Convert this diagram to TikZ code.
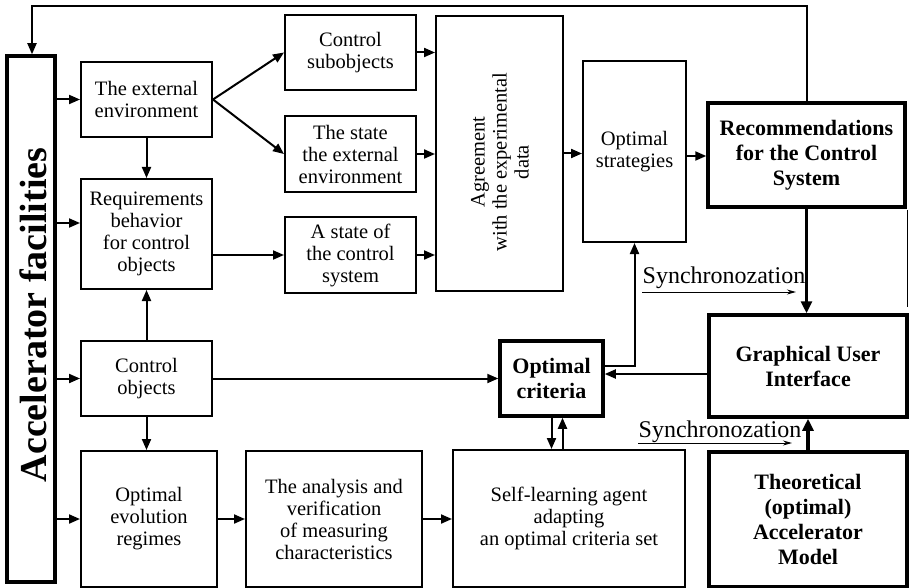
\documentclass[tikz,border=0pt]{standalone}
\usepackage{fontspec}
\setmainfont{Liberation Serif}
\usetikzlibrary{arrows.meta,calc}
\begin{document}
\begin{tikzpicture}[x=1pt,y=-1pt,
 box/.style={draw, line width=2pt, align=center, inner sep=0pt, font=\fontsize{20.5}{22}\selectfont},
 tbox/.style={box, line width=3.5pt, font=\fontsize{22}{25}\selectfont\bfseries},
 arr/.style={line width=2pt, -{Triangle[length=11pt,width=9pt]}},
 tarr/.style={line width=3.5pt, -{Triangle[length=12pt,width=11pt]}},
 syn/.style={line width=1pt, -{Stealth[length=9pt,width=5pt]}},
 syntext/.style={font=\fontsize{24}{26}\selectfont, inner sep=0pt, anchor=base},
]
\useasboundingbox (0,0) rectangle (909,588);

% nodes
\node[tbox, minimum width=48pt, minimum height=526pt] (acc) at (31,319) {};
\node[rotate=90, font=\fontsize{38}{40}\selectfont\bfseries, inner sep=0pt] (acctext) at (33,315) {Accelerator facilities};

\node[box, minimum width=131pt, minimum height=75pt] (ext) at (146.5,99.5) {The external\\environment};
\node[box, minimum width=131pt, minimum height=110pt] (req) at (146.5,234) {Requirements\\behavior\\for control\\objects};
\node[box, minimum width=131pt, minimum height=75pt] (cobj) at (146.5,378.5) {Control\\objects};
\node[box, minimum width=136pt, minimum height=136pt] (oer) at (149,519) {Optimal\\evolution\\regimes};
\node[box, minimum width=176pt, minimum height=136pt] (ana) at (334,519) {The analysis and\\verification\\of measuring\\characteristics};
\node[box, minimum width=232pt, minimum height=137pt] (self) at (569,518.5) {Self-learning agent\\adapting\\an optimal criteria set};
\node[tbox, minimum width=198pt, minimum height=135pt] (theo) at (808,519.5) {Theoretical\\(optimal)\\Accelerator\\Model};
\node[tbox, minimum width=198pt, minimum height=102pt] (gui) at (808,366) {Graphical User\\Interface};
\node[tbox, minimum width=103pt, minimum height=75pt] (crit) at (551.5,378.5) {Optimal\\criteria};

\node[box, minimum width=131pt, minimum height=75pt] (csub) at (350.5,52.5) {Control\\subobjects};
\node[box, minimum width=131pt, minimum height=76pt] (state) at (350.5,154) {The state\\the external\\environment};
\node[box, minimum width=131pt, minimum height=76pt] (astate) at (350.5,255) {A state of\\the control\\system};
\node[box, minimum width=127pt, minimum height=275pt] (agr) at (499.5,153.5) {};
\node[rotate=90, align=center, font=\fontsize{20.5}{22}\selectfont, inner sep=0pt] (agrtext) at (500,162) {Agreement\\with the experimental\\data};
\node[box, minimum width=103pt, minimum height=181pt] (ostr) at (634.5,151.5) {Optimal\\strategies};
\node[tbox, minimum width=197pt, minimum height=104pt] (rec) at (806.5,155) {Recommendations\\for the Control\\System};

% connectors from accelerator facilities
\draw[arr] (acc.east |- ext.west) -- (ext.west);
\draw[arr] (acc.east |- 0,223) -- (req.west |- 0,223);
\draw[arr] (acc.east |- cobj.west) -- (cobj.west);
\draw[arr] (acc.east |- oer.west) -- (oer.west);

% left column
\draw[arr] (ext.south) -- (req.north);
\draw[arr] (cobj.north) -- (req.south);
\draw[arr] (cobj.south) -- (cobj.south |- oer.north);

% fan out
\draw[arr] (ext.east) -- (csub.west);
\draw[arr] (ext.east) -- (state.west);
\draw[arr] (astate.west -| req.east) -- (astate.west);

% into agreement
\draw[arr] (csub.east) -- (csub.east -| agr.west);
\draw[arr] (state.east) -- (state.east -| agr.west);
\draw[arr] (astate.east) -- (astate.east -| agr.west);
\draw[arr] (agr.east) -- (agr.east -| ostr.west);
\draw[arr] (ostr.east |- 0,156) -- (rec.west |- 0,156);

% feedback loop on top
\coordinate (tl) at (32,6);
\draw[arr] (rec.north) |- (tl) -- (tl |- acc.north);

% right column
\draw[tarr] (rec.south) -- (rec.south |- gui.north);
\draw[tarr] (theo.north) -- (gui.south);

% optimal criteria connections
\draw[arr] (crit.east |- 0,366) -| (ostr.south);
\draw[arr] (gui.west |- 0,374) -- (crit.east |- 0,374);
\draw[arr] (cobj.east) -- (crit.west);
\draw[arr] (crit.south) -- (crit.south |- self.north);
\draw[arr] ([xshift=11pt]crit.south |- self.north) -- ([xshift=11pt]crit.south);

% bottom row
\draw[arr] (oer.east) -- (ana.west);
\draw[arr] (ana.east) -- (ana.east -| self.west);

% synchronization
\node[syntext] (sync1) at (724,283) {Synchronozation};
\draw[syn] (sync1.base west |- 0,292) -- (796,292);
\node[syntext] (sync2) at (720,437) {Synchronozation};
\draw[syn] (sync2.base west |- 0,443) -- (792,443);

% thin edge line at right
\draw[line width=0.8pt] (907,210) -- (907,307);
\end{tikzpicture}
\end{document}
